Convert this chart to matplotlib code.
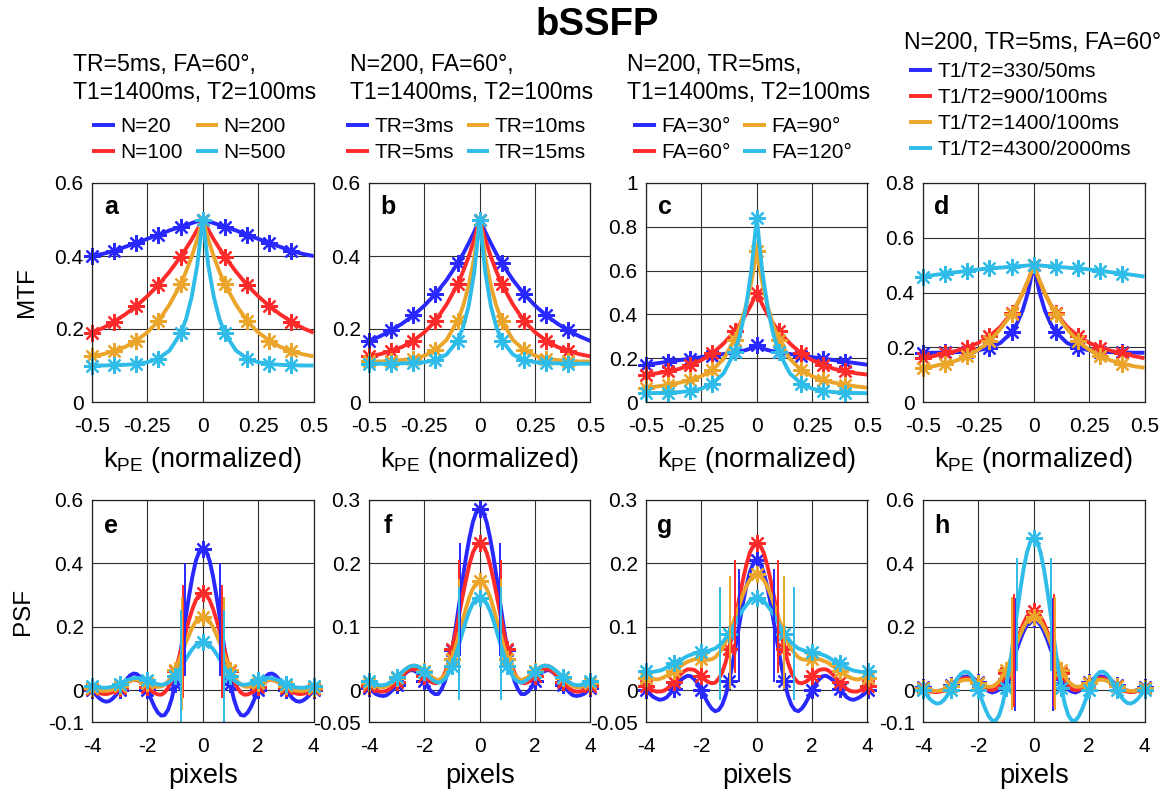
import numpy as np
import matplotlib
matplotlib.use('Agg')
from matplotlib import pyplot as plt

plt.rcParams['font.family'] = ['Liberation Sans', 'DejaVu Sans']
plt.rcParams['mathtext.default'] = 'regular'
plt.rcParams['axes.unicode_minus'] = False

# ---------------- data (half profiles, the curves are symmetric) ----------------
colors = ['#2828FF', '#FF2A2A', '#EBA52A', '#30BCE8']

# MTF, k_PE >= 0
k_half = [0, 0.025, 0.05, 0.075, 0.1, 0.15, 0.2, 0.25, 0.3, 0.35, 0.4, 0.45, 0.5]

# reference case N=200, TR=5ms, FA=60, T1/T2=1400/100ms (shows up in every panel)
mtf_ref = [0.5, 0.445, 0.398, 0.358, 0.322, 0.267, 0.222, 0.191, 0.168, 0.151, 0.140, 0.131, 0.125]

mtf_n20 = [0.5, 0.495, 0.490, 0.485, 0.480, 0.470, 0.458, 0.447, 0.436, 0.425, 0.414, 0.406, 0.400]
mtf_n100 = [0.5, 0.472, 0.445, 0.421, 0.398, 0.357, 0.321, 0.290, 0.263, 0.240, 0.220, 0.203, 0.190]
mtf_n500 = [0.5, 0.374, 0.288, 0.228, 0.188, 0.141, 0.119, 0.109, 0.104, 0.102, 0.101, 0.100, 0.100]

mtf_tr3 = [0.5, 0.466, 0.435, 0.406, 0.380, 0.334, 0.296, 0.264, 0.237, 0.215, 0.196, 0.180, 0.167]
mtf_tr10 = [0.5, 0.395, 0.319, 0.263, 0.222, 0.170, 0.142, 0.127, 0.119, 0.115, 0.113, 0.111, 0.111]
mtf_tr15 = [0.5, 0.355, 0.263, 0.205, 0.168, 0.130, 0.115, 0.109, 0.107, 0.106, 0.105, 0.105, 0.105]

mtf_fa30 = [0.26, 0.245, 0.237, 0.231, 0.227, 0.219, 0.212, 0.205, 0.198, 0.191, 0.184, 0.177, 0.170]
mtf_fa90 = [0.69, 0.545, 0.434, 0.349, 0.285, 0.196, 0.147, 0.118, 0.100, 0.088, 0.079, 0.071, 0.065]
mtf_fa120 = [0.84, 0.596, 0.426, 0.309, 0.227, 0.130, 0.084, 0.061, 0.050, 0.045, 0.042, 0.041, 0.040]

mtf_t330 = [0.5, 0.403, 0.335, 0.288, 0.255, 0.216, 0.198, 0.189, 0.184, 0.182, 0.181, 0.180, 0.180]
mtf_t900 = [0.5, 0.444, 0.397, 0.357, 0.325, 0.275, 0.240, 0.216, 0.199, 0.187, 0.178, 0.168, 0.160]
mtf_t4300 = [0.5, 0.499, 0.497, 0.496, 0.494, 0.491, 0.488, 0.484, 0.479, 0.474, 0.469, 0.464, 0.458]

# PSF, pixel >= 0 (step 1/8 pixel)
x_half = [0, 0.125, 0.25, 0.375, 0.5, 0.625, 0.75, 0.875, 1, 1.125, 1.25, 1.375, 1.5, 1.625, 1.75, 1.875,
          2, 2.125, 2.25, 2.375, 2.5, 2.625, 2.75, 2.875, 3, 3.125, 3.25, 3.375, 3.5, 3.625, 3.75, 3.875, 4]

psf_ref = [0.232, 0.228, 0.217, 0.198, 0.174, 0.147, 0.118, 0.090, 0.065, 0.044, 0.028, 0.018, 0.012, 0.011,
           0.013, 0.017, 0.023, 0.028, 0.032, 0.033, 0.033, 0.030, 0.025, 0.019, 0.013, 0.007, 0.002, -0.001,
           -0.002, -0.002, 0.0, 0.003, 0.007]

psf_n20 = [0.447, 0.438, 0.408, 0.358, 0.295, 0.224, 0.151, 0.081, 0.020, -0.028, -0.061, -0.078, -0.080,
           -0.070, -0.051, -0.026, 0.0, 0.023, 0.041, 0.051, 0.053, 0.047, 0.035, 0.019, 0.002, -0.014,
           -0.026, -0.034, -0.036, -0.032, -0.024, -0.013, 0.0]
psf_n100 = [0.307, 0.301, 0.284, 0.256, 0.221, 0.181, 0.139, 0.098, 0.061, 0.031, 0.008, -0.007, -0.014,
            -0.013, -0.008, 0.001, 0.011, 0.020, 0.028, 0.032, 0.033, 0.030, 0.024, 0.016, 0.008, 0.000,
            -0.006, -0.010, -0.012, -0.011, -0.008, -0.003, 0.003]
psf_n500 = [0.153, 0.150, 0.142, 0.130, 0.114, 0.096, 0.078, 0.061, 0.045, 0.033, 0.024, 0.019, 0.017,
            0.019, 0.022, 0.026, 0.031, 0.035, 0.038, 0.039, 0.038, 0.035, 0.031, 0.026, 0.021, 0.016,
            0.012, 0.009, 0.008, 0.008, 0.009, 0.011, 0.014]

psf_tr3 = [0.286, 0.281, 0.265, 0.240, 0.209, 0.173, 0.134, 0.097, 0.064, 0.037, 0.015, 0.002, -0.006,
           -0.006, -0.002, 0.005, 0.014, 0.021, 0.028, 0.031, 0.032, 0.029, 0.024, 0.017, 0.009, 0.002,
           -0.004, -0.008, -0.009, -0.008, -0.006, -0.001, 0.004]
psf_tr10 = [0.172, 0.169, 0.160, 0.147, 0.129, 0.109, 0.088, 0.068, 0.050, 0.036, 0.025, 0.019, 0.016,
            0.018, 0.021, 0.026, 0.031, 0.035, 0.038, 0.039, 0.038, 0.035, 0.030, 0.025, 0.019, 0.014,
            0.009, 0.006, 0.005, 0.005, 0.007, 0.009, 0.012]
psf_tr15 = [0.146, 0.145, 0.137, 0.125, 0.109, 0.091, 0.072, 0.055, 0.039, 0.027, 0.018, 0.014, 0.012,
            0.014, 0.018, 0.023, 0.029, 0.034, 0.038, 0.039, 0.038, 0.035, 0.031, 0.026, 0.021, 0.016,
            0.012, 0.009, 0.008, 0.008, 0.010, 0.012, 0.015]

psf_fa30 = [0.205, 0.200, 0.186, 0.164, 0.137, 0.105, 0.073, 0.042, 0.014, -0.008, -0.023, -0.031, -0.033,
            -0.029, -0.021, -0.011, 0.0, 0.010, 0.017, 0.022, 0.023, 0.020, 0.016, 0.009, 0.002, -0.005,
            -0.011, -0.014, -0.015, -0.013, -0.010, -0.005, 0.0]
psf_fa90 = [0.183, 0.181, 0.174, 0.164, 0.151, 0.135, 0.119, 0.103, 0.088, 0.076, 0.065, 0.058, 0.052,
            0.049, 0.048, 0.048, 0.049, 0.049, 0.049, 0.047, 0.045, 0.042, 0.038, 0.034, 0.031, 0.027,
            0.023, 0.020, 0.018, 0.017, 0.018, 0.019, 0.020]
psf_fa120 = [0.146, 0.145, 0.141, 0.134, 0.127, 0.118, 0.108, 0.098, 0.089, 0.082, 0.075, 0.070, 0.066,
             0.064, 0.062, 0.061, 0.061, 0.060, 0.058, 0.056, 0.054, 0.051, 0.047, 0.045, 0.043, 0.040,
             0.036, 0.033, 0.031, 0.030, 0.029, 0.029, 0.030]

psf_t330 = [0.224, 0.219, 0.206, 0.184, 0.157, 0.126, 0.094, 0.064, 0.037, 0.017, 0.002, -0.004, -0.007,
            -0.003, 0.005, 0.014, 0.025, 0.034, 0.041, 0.044, 0.043, 0.039, 0.033, 0.025, 0.016, 0.008,
            0.002, -0.001, -0.003, -0.002, 0.001, 0.005, 0.011]
psf_t900 = [0.251, 0.247, 0.232, 0.210, 0.182, 0.150, 0.116, 0.084, 0.055, 0.032, 0.014, 0.004, 0.0,
            0.002, 0.007, 0.014, 0.023, 0.030, 0.036, 0.038, 0.038, 0.034, 0.028, 0.020, 0.012, 0.005,
            -0.001, -0.004, -0.006, -0.005, -0.002, 0.002, 0.007]
psf_t4300 = [0.480, 0.468, 0.433, 0.379, 0.309, 0.231, 0.150, 0.074, 0.008, -0.044, -0.079, -0.0955, -0.096,
             -0.082, -0.059, -0.030, 0.0, 0.0265, 0.046, 0.057, 0.059, 0.052, 0.039, 0.020, 0.001, -0.017,
             -0.031, -0.040, -0.042, -0.037, -0.028, -0.014, 0.0]

# half width at half maximum of each PSF (vertical marker lines), per panel
fwhm_e = [0.63, 0.71, 0.76, 0.78]
fwhm_f = [0.72, 0.76, 0.76, 0.75]
fwhm_g = [0.64, 0.77, 0.98, 1.34]
fwhm_h = [0.69, 0.72, 0.77, 0.62]

labels_a = ['N=20', 'N=100', 'N=200', 'N=500']
labels_b = ['TR=3ms', 'TR=5ms', 'TR=10ms', 'TR=15ms']
labels_c = ['FA=30°', 'FA=60°', 'FA=90°', 'FA=120°']
labels_d = ['T1/T2=330/50ms', 'T1/T2=900/100ms', 'T1/T2=1400/100ms', 'T1/T2=4300/2000ms']

headers = [['TR=5ms, FA=60°,', 'T1=1400ms, T2=100ms'],
           ['N=200, FA=60°,', 'T1=1400ms, T2=100ms'],
           ['N=200, TR=5ms,', 'T1=1400ms, T2=100ms'],
           ['N=200, TR=5ms, FA=60°']]

mtf_yticks = [[0, 0.2, 0.4, 0.6], [0, 0.2, 0.4, 0.6], [0, 0.2, 0.4, 0.6, 0.8, 1], [0, 0.2, 0.4, 0.6, 0.8]]
psf_yticks = [[-0.1, 0, 0.2, 0.4, 0.6], [-0.05, 0, 0.1, 0.2, 0.3], [-0.05, 0, 0.1, 0.2, 0.3], [-0.1, 0, 0.2, 0.4, 0.6]]
mtf_xticks = [-0.5, -0.25, 0, 0.25, 0.5]
psf_xticks = [-4, -2, 0, 2, 4]

mtf_sets = [[mtf_n20, mtf_n100, mtf_ref, mtf_n500],
            [mtf_tr3, mtf_ref, mtf_tr10, mtf_tr15],
            [mtf_fa30, mtf_ref, mtf_fa90, mtf_fa120],
            [mtf_t330, mtf_t900, mtf_ref, mtf_t4300]]
psf_sets = [[psf_n20, psf_n100, psf_ref, psf_n500],
            [psf_tr3, psf_ref, psf_tr10, psf_tr15],
            [psf_fa30, psf_ref, psf_fa90, psf_fa120],
            [psf_t330, psf_t900, psf_ref, psf_t4300]]
fwhm_sets = [fwhm_e, fwhm_f, fwhm_g, fwhm_h]
label_sets = [labels_a, labels_b, labels_c, labels_d]

# ---------------- figure ----------------
W, H = 1173, 796
fig = plt.figure(figsize=(W / 100, H / 100), dpi=100)


def fx(px):
    return px / W


def fy(py):
    return 1 - py / H


def mirror(xh, yh):
    xh = np.asarray(xh, float)
    yh = np.asarray(yh, float)
    return np.concatenate([-xh[:0:-1], xh]), np.concatenate([yh[:0:-1], yh])


def style_axes(ax, xticks, yticks, xlim, ylim):
    ax.set_xlim(xlim)
    ax.set_ylim(ylim)
    ax.set_xticks(xticks)
    ax.set_xticklabels(['{:g}'.format(t) for t in xticks])
    ax.set_yticks(yticks)
    ax.set_yticklabels(['{:g}'.format(t) for t in yticks])
    ax.tick_params(length=0, labelsize=15)
    ax.tick_params(axis='x', pad=11)
    ax.tick_params(axis='y', pad=6)
    ax.grid(True, color='#303030', lw=0.8)
    ax.set_axisbelow(True)
    for s in ax.spines.values():
        s.set_linewidth(0.9)
        s.set_color('#202020')


lefts = [92, 369, 646, 923]
aw = 221.5
letters_top = ['a', 'b', 'c', 'd']
letters_bot = ['e', 'f', 'g', 'h']
legend_x = [92, 346, 633, 909]
lw = 2.8
mk = dict(marker=(8, 2, 0), ms=12, mew=1.6, ls='none', clip_on=False)
leg_kw = dict(loc='upper left', bbox_transform=fig.transFigure, frameon=False, fontsize=15,
              handlelength=1.1, handletextpad=0.25, columnspacing=0.62, labelspacing=0.34,
              borderpad=0, borderaxespad=0)

for i in range(4):
    # MTF row
    ax = fig.add_axes([fx(lefts[i]), fy(402), aw / W, 219 / H])
    style_axes(ax, mtf_xticks, mtf_yticks[i], (-0.5, 0.5), (mtf_yticks[i][0], mtf_yticks[i][-1]))
    handles = []
    for j in range(4):
        k, v = mirror(k_half, mtf_sets[i][j])
        h, = ax.plot(k, v, color=colors[j], lw=lw, solid_capstyle='butt')
        handles.append(h)
        sel = np.isclose(k * 10, np.round(k * 10)) & (k < 0.45)
        ax.plot(k[sel], v[sel], color=colors[j], **mk)
    ax.text(0.085, 0.89, letters_top[i], transform=ax.transAxes, fontsize=18,
            fontweight='bold', ha='center', va='center')
    ax.set_xlabel('k$_{PE}$ (normalized)', fontsize=19.5, labelpad=6)
    if i == 0:
        ax.set_ylabel('MTF', fontsize=17.5, labelpad=12)

    # header and legend above each column
    hx = lefts[i] - 19
    if i < 3:
        fig.text(fx(hx), fy(65), headers[i][0], fontsize=16.6, va='center')
        fig.text(fx(hx), fy(93), headers[i][1], fontsize=16.6, va='center')
        fig.legend(handles, label_sets[i], ncol=2, bbox_to_anchor=(fx(legend_x[i]), fy(117)), **leg_kw)
    else:
        fig.text(fx(hx), fy(43), headers[i][0], fontsize=16.6, va='center')
        fig.legend(handles, label_sets[i], ncol=1, bbox_to_anchor=(fx(legend_x[i]), fy(62)), **leg_kw)

    # PSF row
    ax = fig.add_axes([fx(lefts[i]), fy(722), aw / W, 222 / H])
    yt = psf_yticks[i]
    style_axes(ax, psf_xticks, yt, (-4, 4), (yt[0], yt[-1]))
    span = yt[-1] - yt[0]
    for j in range(4):
        x, v = mirror(x_half, psf_sets[i][j])
        ax.plot(x, v, color=colors[j], lw=lw)
        sel = np.isclose(x, np.round(x))
        ax.plot(x[sel], v[sel], color=colors[j], **mk)
    for j in range(4):
        half = max(psf_sets[i][j]) / 2
        for s in (-1, 1):
            ax.plot([s * fwhm_sets[i][j]] * 2, [half - span / 4, half + span / 4],
                    color=colors[j], lw=1.4)
    ax.text(0.085, 0.885, letters_bot[i], transform=ax.transAxes, fontsize=18,
            fontweight='bold', ha='center', va='center')
    ax.set_xlabel('pixels', fontsize=19.5, labelpad=5)
    if i == 0:
        ax.set_ylabel('PSF', fontsize=17.5, labelpad=10)

fig.text(fx(597), fy(25), 'bSSFP', fontsize=27.5, fontweight='bold', ha='center', va='center')

fig.savefig('out.png', dpi=100)
